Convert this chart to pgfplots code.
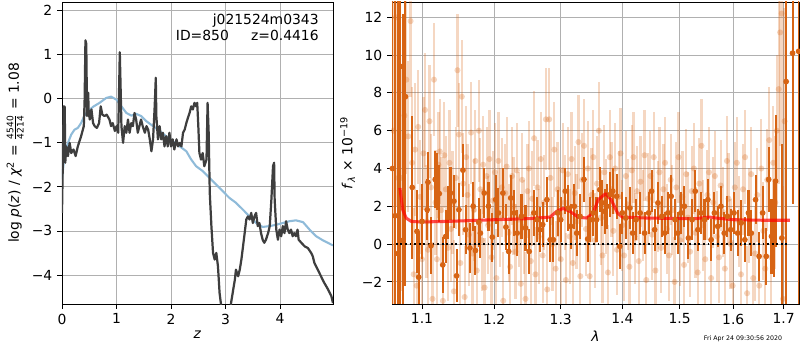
\documentclass[border=0pt]{standalone}
\usepackage{fontspec}
\setmainfont{DejaVu Sans}
\usepackage{pgfplots}
\pgfplotsset{compat=1.18}
\definecolor{darkor}{RGB}{215,100,20}
\definecolor{pzblue}{RGB}{143,187,217}
\definecolor{pzblack}{RGB}{62,62,62}
\definecolor{gridgray}{RGB}{176,176,176}
\pgfplotsset{mpl/.style={scale only axis, axis line style={line width=0.6pt}, tick align=outside, tick pos=left, major tick length=3.5pt, tick style={black, line width=0.6pt}, grid=major, major grid style={gridgray, line width=0.6pt}, tick label style={font=\fontsize{10}{12}\selectfont}, label style={font=\fontsize{10}{12}\selectfont}, /pgf/number format/assume math mode=true}}
\begin{document}
\begin{tikzpicture}
\path[use as bounding box] (-44.64pt,-33.12pt) rectangle (531.36pt,218.88pt);
\begin{axis}[mpl, at={(0pt,0pt)}, anchor=south west, width=195.12pt, height=217.44pt,
  xmin=0, xmax=4.97, ymin=-4.66, ymax=2.2,
  xtick={0,1,2,3,4}, xticklabels={0,1,2,3,4},
  ytick={-4,-3,-2,-1,0,1,2}, yticklabels={−4,−3,−2,−1,0,1,2},
  xlabel={\textit{z}}, ylabel={log \textit{p}(\textit{z}) / \textit{χ}\textsuperscript{2} = $\frac{\mbox{\fontsize{6.5}{7}\selectfont 4540}}{\mbox{\fontsize{6.5}{7}\selectfont 4214}}$ = 1.08},
  xlabel style={yshift=2pt}, ylabel style={yshift=-1pt}]
\addplot[pzblue, line width=1.5pt, line join=round] coordinates {
(0,-1.83) (0.05,-1.23) (0.11,-1.0) (0.17,-0.81) (0.23,-0.70) (0.29,-0.66) (0.35,-0.55) (0.42,-0.36) (0.48,-0.28) (0.57,-0.18) (0.69,-0.09) (0.81,0.02) (0.90,0.05) (1.0,-0.02) (1.09,-0.17) (1.18,-0.32) (1.27,-0.38) (1.36,-0.34) (1.45,-0.39) (1.55,-0.51) (1.67,-0.62) (1.79,-0.73) (1.91,-0.85) (2.03,-0.96) (2.16,-1.08) (2.28,-1.19) (2.37,-1.38) (2.46,-1.53) (2.58,-1.64) (2.71,-1.80) (2.83,-1.95) (2.95,-2.10) (3.07,-2.25) (3.19,-2.36) (3.32,-2.52) (3.44,-2.67) (3.56,-2.82) (3.68,-2.91) (3.81,-2.89) (3.93,-2.86) (4.05,-2.82) (4.17,-2.78) (4.29,-2.76) (4.42,-2.80) (4.54,-2.97) (4.66,-3.12) (4.78,-3.21) (4.97,-3.33)};
\addplot[pzblack, line width=1.6pt, line join=round] coordinates {
(0,-2.59) (0.012,-1.68) (0.03,-0.17) (0.05,-0.18) (0.06,-1.45) (0.08,-1.08) (0.11,-1.30) (0.14,-1.0) (0.17,-1.23) (0.21,-1.15) (0.25,-1.30) (0.29,-1.08) (0.35,-0.85) (0.40,-0.62) (0.415,-0.02) (0.43,1.33) (0.445,1.25) (0.46,-0.39) (0.48,0.14) (0.49,-0.32) (0.51,-0.47) (0.54,-0.24) (0.57,-0.55) (0.60,-0.62) (0.64,-0.66) (0.68,-0.55) (0.71,-0.17) (0.74,-0.36) (0.78,-0.39) (0.82,-0.36) (0.87,-0.47) (0.90,-0.62) (0.93,-0.55) (0.97,-0.73) (1.0,-0.62) (1.03,-0.77) (1.04,-0.24) (1.06,1.06) (1.08,-0.02) (1.09,-0.62) (1.12,-1.0) (1.15,-0.62) (1.18,-0.77) (1.21,-0.47) (1.24,-0.77) (1.27,-0.55) (1.30,-0.62) (1.33,-0.32) (1.36,-0.47) (1.39,-0.77) (1.42,-0.62) (1.45,-0.47) (1.48,-0.62) (1.52,-0.77) (1.55,-0.62) (1.58,-0.70) (1.61,-0.92) (1.64,-1.19) (1.67,-0.92) (1.70,-0.17) (1.72,0.48) (1.73,-0.39) (1.76,-0.92) (1.79,-0.62) (1.82,-0.92) (1.85,-0.77) (1.88,-1.08) (1.91,-0.85) (1.94,-1.08) (1.97,-0.77) (2.00,-1.08) (2.03,-0.92) (2.06,-1.15) (2.10,-0.92) (2.13,-1.08) (2.16,-1.0) (2.19,-1.08) (2.22,-0.77) (2.25,-0.70) (2.28,-0.55) (2.31,-0.43) (2.34,-0.32) (2.37,-0.17) (2.40,-0.24) (2.43,-0.09) (2.46,-0.17) (2.48,-0.09) (2.50,-0.62) (2.52,-1.23) (2.55,-1.38) (2.58,-1.23) (2.61,-1.53) (2.65,-1.38) (2.67,-0.09) (2.69,-0.77) (2.71,-2.14) (2.74,-2.89) (2.77,-3.50) (2.80,-3.65) (2.83,-3.50) (2.86,-3.80) (2.89,-4.41) (2.92,-4.71) (2.95,-5.2) (3.05,-5.3) (3.10,-4.64) (3.13,-4.41) (3.17,-4.11) (3.19,-3.88) (3.23,-4.03) (3.26,-3.88) (3.29,-3.65) (3.32,-3.35) (3.35,-3.05) (3.38,-2.74) (3.41,-2.67) (3.44,-2.74) (3.47,-2.59) (3.50,-2.82) (3.53,-2.67) (3.56,-2.59) (3.59,-2.89) (3.62,-2.82) (3.65,-3.05) (3.68,-3.20) (3.71,-3.27) (3.74,-3.20) (3.78,-3.05) (3.81,-2.89) (3.84,-2.29) (3.87,-1.53) (3.89,-1.45) (3.90,-2.29) (3.93,-2.97) (3.96,-3.20) (3.99,-2.97) (4.02,-3.12) (4.05,-2.89) (4.08,-3.05) (4.11,-2.78) (4.14,-2.97) (4.17,-3.05) (4.20,-2.97) (4.23,-3.12) (4.26,-3.05) (4.29,-3.12) (4.32,-2.97) (4.34,-3.20) (4.39,-3.27) (4.45,-3.35) (4.51,-3.39) (4.57,-3.50) (4.60,-3.58) (4.63,-3.73) (4.69,-3.88) (4.75,-4.03) (4.81,-4.18) (4.88,-4.33) (4.94,-4.48) (4.97,-4.64)};
\node[anchor=north east, align=right, font=\fontsize{10}{11.5}\selectfont, inner sep=0pt] at (rel axis cs:0.948,0.962) {j021524m0343\\ID=850\hspace{1.6em}z=0.4416};
\end{axis}
\begin{axis}[mpl, at={(237.6pt,0pt)}, anchor=south west, width=293.04pt, height=217.44pt,
  xmode=log, xmin=1.061, xmax=1.732, ymin=-3.17, ymax=12.81,
  xtick={1.1,1.2,1.3,1.4,1.5,1.6,1.7}, xticklabels={1.1,1.2,1.3,1.4,1.5,1.6,1.7}, minor xtick={},
  ytick={-2,0,2,4,6,8,10,12}, yticklabels={−2,0,2,4,6,8,10,12},
  xlabel={\textit{λ}}, ylabel={\textit{f}\textsubscript{\textit{λ}} × 10\textsuperscript{−19}},
  xlabel style={yshift=2pt}, ylabel style={yshift=-2pt}]
\addplot[only marks, mark=*, mark size=2.2pt, color=darkor, mark options={fill=darkor, draw=darkor, fill opacity=0.27, draw opacity=0},
  error bars/.cd, y dir=both, y explicit, error mark=none, error bar style={line width=1.6pt, darkor, opacity=0.26}]
table[x=x, y=y, y error=e] {
x y e
1.063 6.0 12
1.066 12.0 10
1.069 3.5 8
1.074 3.5 6
1.077 6.8 5
1.0795 8.7 5
1.082 5.7 4
1.085 11.8 4
1.087 4.3 4
1.089 -1.6 3.5
1.091 5.0 3.5
1.093 -2.2 3
1.095 6.2 3
1.0975 2.5 3
1.100 -0.8 3
1.102 4.8 3
1.104 7.1 3
1.106 1.2 3
1.108 -0.3 3
1.110 6.5 3
1.112 3.0 2.8
1.114 -2.9 3
1.116 8.7 3
1.118 2.2 2.8
1.120 -0.8 2.8
1.122 4.2 2.8
1.124 4.9 2.8
1.126 1.8 2.8
1.128 -3.0 2.8
1.130 4.7 2.8
1.132 2.9 2.8
1.135 -0.2 2.8
1.137 4.3 2.8
1.139 0.8 2.8
1.141 2.2 2.7
1.143 -2.5 2.7
1.146 3.5 2.7
1.148 9.2 3
1.150 5.8 2.7
1.152 -1.0 2.7
1.154 7.8 3
1.156 3.2 2.7
1.158 -2.8 2.7
1.160 4.6 2.7
1.162 2.6 2.7
1.164 0.5 2.7
1.167 5.9 2.7
1.169 -0.5 2.7
1.171 1.8 2.7
1.173 4.4 2.7
1.175 -1.4 2.7
1.178 6.0 2.7
1.180 2.9 2.7
1.182 0.2 2.7
1.184 4.2 2.6
1.186 -2.3 2.6
1.189 3.6 2.6
1.191 1.0 2.6
1.193 4.5 2.6
1.196 -0.7 2.6
1.198 2.3 2.6
1.201 3.8 2.6
1.203 -1.8 2.6
1.206 4.4 2.6
1.208 1.4 2.6
1.211 3.0 2.6
1.213 -3.0 2.6
1.216 2.7 2.6
1.218 4.1 2.6
1.221 0.6 2.6
1.223 -1.2 2.6
1.226 3.6 2.6
1.228 2.0 2.6
1.231 -0.4 2.5
1.233 3.9 2.5
1.236 1.3 2.5
1.239 -2.1 2.5
1.241 3.4 2.5
1.244 0.9 2.5
1.246 -2.9 2.5
1.249 2.8 2.5
1.251 4.0 2.5
1.254 -0.9 2.5
1.256 2.4 2.5
1.259 5.6 2.5
1.261 -1.6 2.5
1.264 3.0 2.5
1.266 0.4 2.5
1.269 4.5 2.5
1.272 -0.6 2.5
1.274 2.2 2.5
1.277 6.6 2.7
1.279 -2.4 2.5
1.282 6.6 2.7
1.284 3.5 2.5
1.287 0.0 2.5
1.290 5.0 2.5
1.292 -1.3 2.5
1.295 2.9 2.5
1.298 1.6 2.5
1.300 -0.8 2.5
1.303 3.9 2.5
1.306 2.2 2.5
1.308 -1.9 2.5
1.311 3.7 2.5
1.314 0.4 2.5
1.317 4.5 2.5
1.319 -1.0 2.5
1.322 2.7 2.5
1.325 1.2 2.5
1.328 5.4 2.5
1.331 -1.7 2.5
1.334 3.4 2.5
1.337 5.2 2.5
1.340 0.8 2.5
1.343 4.0 2.5
1.346 -1.7 2.5
1.349 2.6 2.5
1.352 4.6 2.5
1.355 0.2 2.5
1.358 3.2 2.5
1.361 6.0 2.6
1.364 1.4 2.5
1.367 -0.6 2.5
1.370 3.8 2.5
1.373 2.0 2.5
1.376 -1.5 2.5
1.379 4.6 2.5
1.382 2.9 2.5
1.385 0.7 2.4
1.388 4.0 2.4
1.391 -0.3 2.4
1.394 2.5 2.4
1.397 4.8 2.4
1.400 1.0 2.4
1.403 -0.6 2.4
1.406 3.6 2.4
1.409 2.1 2.4
1.412 -1.2 2.4
1.416 3.9 2.4
1.419 4.6 2.4
1.422 0.3 2.4
1.425 2.8 2.4
1.428 -0.9 2.4
1.431 3.3 2.4
1.435 1.5 2.4
1.438 4.7 2.4
1.441 -1.9 2.4
1.444 2.4 2.4
1.448 3.6 2.4
1.451 0.5 2.4
1.454 4.6 2.4
1.457 -1.4 2.4
1.461 2.0 2.4
1.464 3.8 2.4
1.467 -0.2 2.4
1.471 2.9 2.4
1.474 4.3 2.4
1.477 0.8 2.4
1.481 -0.6 2.4
1.484 3.4 2.4
1.487 1.8 2.4
1.491 -2.0 2.4
1.494 3.0 2.4
1.498 4.6 2.4
1.501 0.2 2.4
1.505 2.5 2.4
1.508 -1.1 2.4
1.512 3.7 2.4
1.515 1.4 2.4
1.519 -0.4 2.4
1.522 2.8 2.4
1.526 4.0 2.4
1.529 0.6 2.4
1.533 -1.5 2.4
1.536 3.2 2.4
1.540 5.2 2.5
1.543 1.0 2.4
1.547 -0.8 2.4
1.551 2.6 2.4
1.554 3.8 2.4
1.558 -1.8 2.4
1.562 2.2 2.4
1.565 3.6 2.4
1.569 0.4 2.4
1.573 -0.7 2.4
1.576 3.1 2.4
1.580 1.7 2.4
1.584 -1.3 2.4
1.588 4.4 2.4
1.591 2.4 2.4
1.595 0.0 2.4
1.599 -2.2 2.4
1.603 3.0 2.4
1.607 4.3 2.4
1.611 1.2 2.4
1.615 -1.6 2.4
1.619 2.9 2.4
1.623 4.6 2.5
1.627 -2.6 2.5
1.631 1.5 2.5
1.635 3.7 2.5
1.639 -1.8 2.5
1.643 -0.5 2.5
1.647 2.6 2.5
1.651 -2.2 2.5
1.655 4.0 2.6
1.659 0.7 2.6
1.663 -1.3 2.6
1.667 3.4 2.7
1.671 5.5 2.8
1.675 -0.7 2.8
1.679 4.3 3
1.683 2.2 3.5
1.686 6.0 4
1.690 8.2 5
1.693 11.2 6
1.696 12.2 8
1.699 -2.9 6
1.702 6.5 6
};
\addplot[only marks, mark=*, mark size=2.1pt, color=darkor, mark options={fill=darkor, draw=darkor, draw opacity=0},
  error bars/.cd, y dir=both, y explicit, error mark=none, error bar style={line width=1.5pt, darkor}]
table[x=x, y=y, y error=e] {
x y e
1.0615 4.0 20
1.0650 1.5 18
1.0685 -0.5 16
1.0717 9.4 14
1.0750 0.2 12
1.0783 7.8 10
1.0872 3.0 3.8
1.0934 0.67 2.2
1.0956 -1.75 2.4
1.1000 1.2 2.0
1.1069 1.82 1.6
1.1079 3.27 1.6
1.1120 -0.09 1.5
1.1176 3.42 1.5
1.1199 3.33 1.5
1.1231 2.67 1.5
1.1278 -1.1 1.5
1.1319 0.4 1.4
1.1347 1.65 1.4
1.1384 2.7 1.4
1.1431 2.27 1.4
1.1468 -1.68 1.4
1.1500 1.82 1.4
1.1556 3.91 1.4
1.1593 0.76 1.3
1.1653 -0.21 1.3
1.1699 2.0 1.3
1.1731 -0.34 1.3
1.1778 1.15 1.3
1.1801 0.58 1.3
1.1856 2.7 1.3
1.1917 2.0 1.3
1.1972 0.37 1.3
1.2020 2.35 1.3
1.2060 1.65 1.3
1.2125 2.7 1.3
1.2170 0.9 1.2
1.2210 -0.39 1.2
1.2240 2.44 1.2
1.2295 1.65 1.2
1.2335 0.58 1.2
1.2400 1.47 1.2
1.2460 0.85 1.2
1.2515 -0.39 1.2
1.2585 1.65 1.2
1.2635 1.29 1.2
1.2675 0.76 1.2
1.2720 1.03 1.2
1.2785 2.35 1.2
1.2835 0.23 1.2
1.2885 0.23 1.2
1.2950 1.65 1.2
1.3000 1.29 1.2
1.3070 2.8 1.2
1.3118 1.91 1.2
1.3155 0.94 1.2
1.3214 2.0 1.2
1.3251 0.58 1.2
1.3305 1.47 1.2
1.3369 3.42 1.2
1.3428 0.27 1.2
1.3471 1.29 1.2
1.3519 1.65 1.2
1.3572 1.29 1.2
1.3626 2.88 1.2
1.3668 2.18 1.2
1.3706 1.73 1.2
1.3743 2.0 1.2
1.3797 2.62 1.2
1.3840 2.8 1.2
1.3904 2.53 1.2
1.3957 -0.12 1.2
1.4000 1.65 1.1
1.4058 1.38 1.1
1.4129 1.91 1.1
1.4175 0.58 1.1
1.4234 1.29 1.1
1.4304 1.65 1.1
1.4380 0.58 1.1
1.4450 1.65 1.1
1.4503 2.8 1.1
1.4556 0.76 1.1
1.4614 2.18 1.1
1.4684 1.47 1.1
1.4731 0.58 1.1
1.4789 1.65 1.1
1.4848 2.53 1.1
1.4918 1.29 1.1
1.4965 0.58 1.1
1.5025 1.65 1.1
1.5086 2.0 1.1
1.5160 0.32 1.1
1.5228 1.29 1.1
1.5284 2.8 1.1
1.5333 0.76 1.1
1.5395 1.65 1.1
1.5457 1.29 1.1
1.5519 2.35 1.1
1.5580 0.23 1.1
1.5642 1.65 1.1
1.5704 0.94 1.1
1.5765 2.0 1.1
1.5827 0.58 1.1
1.5889 1.47 1.1
1.5951 0.76 1.1
1.6014 1.65 1.1
1.6085 0.58 1.2
1.6155 1.12 1.2
1.6225 0.23 1.2
1.6296 1.65 1.2
1.6352 0.58 1.2
1.6437 2.35 1.3
1.6507 -0.65 1.3
1.6577 1.65 1.4
1.6648 -0.65 1.5
1.6697 3.42 1.7
1.6754 0.41 2.0
1.6796 0.76 2.5
1.6838 3.33 3.5
1.6965 0.32 5
1.7052 8.6 12
1.7185 10.1 8
1.7311 10.2 14
};
\addplot[red, line width=2.2pt, opacity=0.7, line join=round] coordinates {
(1.0712,2.97) (1.0748,1.82) (1.0792,1.38) (1.0858,1.2) (1.1,1.17) (1.1338,1.2) (1.2,1.29) (1.2535,1.35) (1.2835,1.43) (1.2935,1.73) (1.3037,1.89) (1.3144,1.73) (1.3278,1.42) (1.3412,1.38) (1.3519,1.65) (1.3599,2.35) (1.3722,2.67) (1.3813,2.35) (1.392,1.65) (1.4,1.43) (1.4409,1.38) (1.5,1.35) (1.5302,1.35) (1.5549,1.43) (1.5673,1.38) (1.6,1.29) (1.6613,1.26) (1.7126,1.26)};
\addplot[black, line width=1.3pt, dash pattern=on 1.3pt off 2pt] coordinates {(1.066,0) (1.712,0)};
\end{axis}
\node[font=\fontsize{4.5}{5}\selectfont, inner sep=0pt] at (490.3pt,-25.2pt) {Fri Apr 24 09:30:56 2020};
\end{tikzpicture}
\end{document}
